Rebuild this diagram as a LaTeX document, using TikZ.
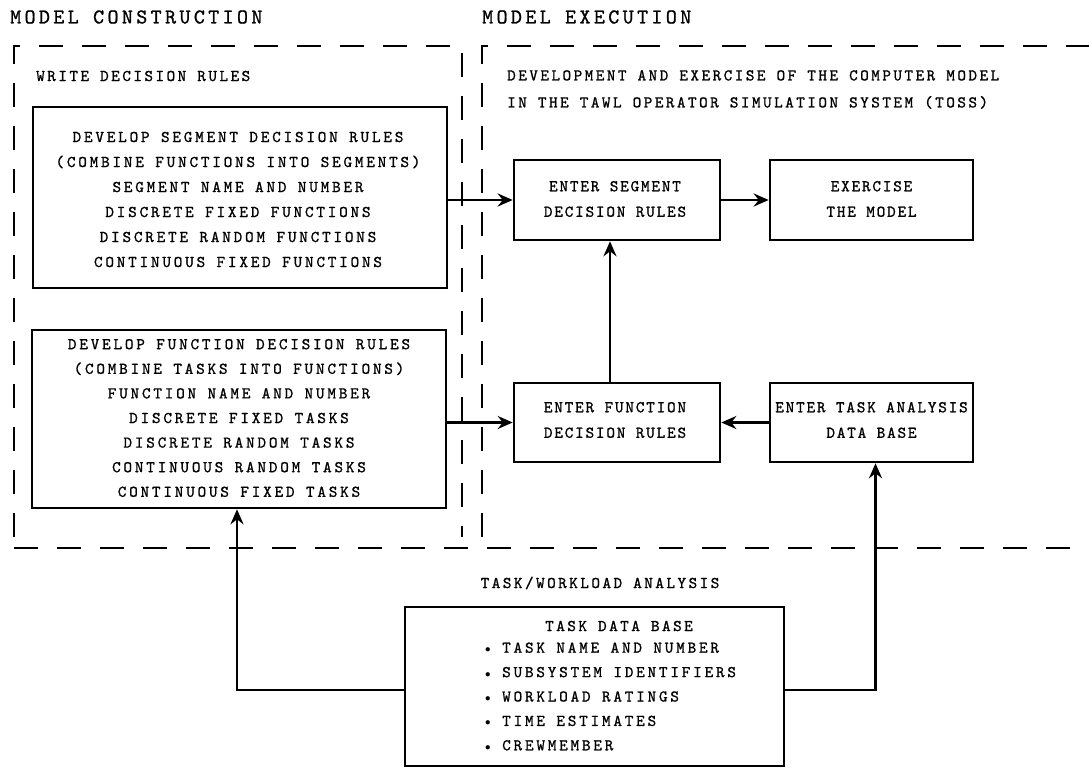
\documentclass[tikz,border=0pt]{standalone}
\usepackage{fontspec}
\newfontfamily\twa{lmmono10-regular.otf}[LetterSpace=17,FakeBold=1]
\newfontfamily\twb{lmmono10-regular.otf}[LetterSpace=15,FakeBold=1]
\newfontfamily\tws{lmmono10-regular.otf}[LetterSpace=11,FakeBold=1]
\newfontfamily\twh{lmmono10-regular.otf}[LetterSpace=16,FakeBold=1]
\usetikzlibrary{arrows.meta}
\newcommand{\bul}{\makebox[17pt][l]{\fontsize{11}{11}\selectfont$\bullet$}}
\begin{document}
\begin{tikzpicture}[x=1pt,y=-1pt,
  box/.style={draw,line width=2.6pt,inner sep=0pt},
  atxt/.style={font=\twa\fontsize{16.4}{25}\selectfont,align=center,inner sep=0pt},
  txt/.style={font=\twb\fontsize{16.4}{25}\selectfont,align=center,inner sep=0pt},
  stxt/.style={font=\tws\fontsize{16.4}{25.5}\selectfont,align=center,inner sep=0pt},
  head/.style={font=\twh\fontsize{21}{25}\selectfont,anchor=west,inner sep=0pt},
  arr/.style={line width=2.6pt,-{Stealth[length=15pt,width=13pt,inset=5pt]}},
  grp/.style={line width=2.8pt,dash pattern=on 24pt off 19pt}]
\useasboundingbox[fill=white] (0,0) rectangle (1089,768);

% headings
\node[head] (h1) at (10,17) {MODEL CONSTRUCTION};
\node[head] (h2) at (482,17) {MODEL EXECUTION};

% dashed group frames
\draw[grp] (14,537) -- (14,46) -- (462,46) -- (462,537);
\draw[grp] (482,537) -- (482,46) -- (1089,46);
\draw[grp] (14,548) -- (1089,548);

\node[txt,anchor=west] (g1) at (36,76) {WRITE DECISION RULES};
\node[txt,anchor=west,align=left,font=\twb\fontsize{16.4}{27}\selectfont] (g2) at (507,89.5) {DEVELOPMENT AND EXERCISE OF THE COMPUTER MODEL\\IN THE TAWL OPERATOR SIMULATION SYSTEM (TOSS)};
\node[txt] (g3) at (600,583) {TASK/WORKLOAD ANALYSIS};

% boxes
\node[box,minimum width=414pt,minimum height=181pt] (A) at (240,197.5) {};
\node[atxt] (At) at (238,199.5) {DEVELOP SEGMENT DECISION RULES\\(COMBINE FUNCTIONS INTO SEGMENTS)\\SEGMENT NAME AND NUMBER\\DISCRETE FIXED FUNCTIONS\\DISCRETE RANDOM FUNCTIONS\\CONTINUOUS FIXED FUNCTIONS};

\node[box,minimum width=414pt,minimum height=178pt] (B) at (239,419) {};
\node[atxt,font=\twa\fontsize{16.4}{24.6}\selectfont] (Bt) at (239,418) {DEVELOP FUNCTION DECISION RULES\\(COMBINE TASKS INTO FUNCTIONS)\\FUNCTION NAME AND NUMBER\\DISCRETE FIXED TASKS\\DISCRETE RANDOM TASKS\\CONTINUOUS RANDOM TASKS\\CONTINUOUS FIXED TASKS};

\node[box,minimum width=206pt,minimum height=80pt] (C) at (617,200) {};
\node[stxt] (Ct) at (615,199) {ENTER SEGMENT\\DECISION RULES};
\node[box,minimum width=203pt,minimum height=80pt] (D) at (871.5,200) {};
\node[stxt] (Dt) at (871.5,199) {EXERCISE\\THE MODEL};
\node[box,minimum width=206pt,minimum height=79pt] (E) at (617,422.5) {};
\node[stxt] (Et) at (615,420) {ENTER FUNCTION\\DECISION RULES};
\node[box,minimum width=203pt,minimum height=79pt] (F) at (871.5,422.5) {};
\node[stxt] (Ft) at (871.5,420) {ENTER TASK ANALYSIS\\DATA BASE};

\node[box,minimum width=379pt,minimum height=159pt] (G) at (594.5,686.5) {};
\node[txt] (Gt) at (619,626) {TASK DATA BASE};
\node[atxt,anchor=west,align=left,font=\twa\fontsize{16.4}{24.4}\selectfont] (Gl) at (485,696.5) {\bul TASK NAME AND NUMBER\\\bul SUBSYSTEM IDENTIFIERS\\\bul WORKLOAD RATINGS\\\bul TIME ESTIMATES\\\bul CREWMEMBER};

% connectors
\draw[arr] (A.east |- C.west) -- (C.west);
\draw[arr] (C.east) -- (D.west);
\draw[arr] ([xshift=-7pt]E.north) -- ([xshift=-7pt]C.south);
\draw[arr] (B.east |- E.west) -- (E.west);
\draw[arr] (F.west) -- (E.east);
\draw[arr] ([yshift=-3.5pt]G.west) -| ([xshift=-2pt]B.south);
\draw[arr] ([yshift=-3.5pt]G.east) -| ([xshift=4pt]F.south);
\end{tikzpicture}
\end{document}
